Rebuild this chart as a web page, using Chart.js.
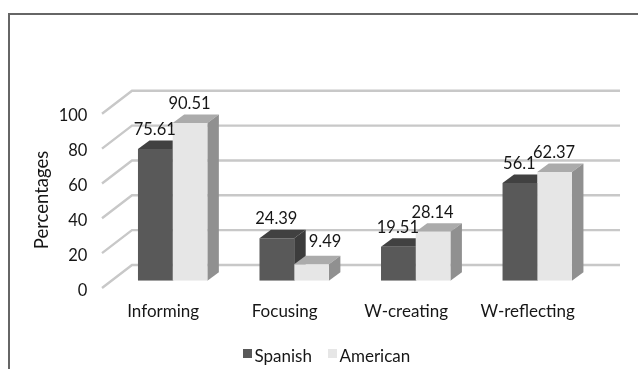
<!DOCTYPE html>
<html lang="en">
  <head>
    <meta charset="UTF-8" />
    <title>Percentages by move</title>
    <script src="https://cdn.jsdelivr.net/npm/chart.js"></script>
    <style>
      * {
        margin: 0;
        padding: 0;
      }
      body {
        background: #fff;
        overflow: hidden;
      }
      canvas {
        display: block;
      }
    </style>
  </head>
  <body>
    <canvas id="chart" width="638" height="369"></canvas>
    <script>
      const categories = ["Informing", "Focusing", "W-creating", "W-reflecting"];
      const spanish = [75.61, 24.39, 19.51, 56.1];
      const american = [90.51, 9.49, 28.14, 62.37];
      const yTicks = [0, 20, 40, 60, 80, 100];

      const FONT = "Lato, sans-serif";
      const TEXT = "#161616";
      const faces = [
        { front: "#595959", top: "#414141", side: "#3c3c3c" },
        { front: "#e6e6e6", top: "#ababab", side: "#909090" },
      ];

      function poly(ctx, pts, color) {
        ctx.fillStyle = color;
        ctx.beginPath();
        pts.forEach((p, i) => (i ? ctx.lineTo(p[0], p[1]) : ctx.moveTo(p[0], p[1])));
        ctx.closePath();
        ctx.fill();
      }

      // fake 3D: floor/wall grid behind the bars, bar depth faces, then labels on top
      const depth3d = {
        id: "depth3d",
        beforeDatasetsDraw(chart) {
          const ctx = chart.ctx;
          const y = chart.scales.y;
          ctx.save();

          // frame around the chart, open on the right and bottom
          ctx.strokeStyle = "#666";
          ctx.lineWidth = 2;
          ctx.beginPath();
          ctx.moveTo(9, 369);
          ctx.lineTo(9, 14);
          ctx.lineTo(638, 14);
          ctx.stroke();

          ctx.strokeStyle = "#c8c8c8";
          ctx.lineWidth = 2.4;
          yTicks.forEach((t) => {
            const py = y.getPixelForValue(t);
            ctx.beginPath();
            ctx.moveTo(102, py + 7.3);
            ctx.lineTo(132, py - 15.7);
            ctx.lineTo(620, py - 15.7);
            ctx.stroke();
          });

          chart.data.datasets.forEach((ds, i) => {
            chart.getDatasetMeta(i).data.forEach((bar) => {
              const half = bar.width / 2;
              const r = bar.x + half;
              const l = bar.x - half;
              const dx = 11.5;
              const dy = 8.5;
              poly(ctx, [[l, bar.y], [r, bar.y], [r + dx, bar.y - dy], [l + dx, bar.y - dy]], faces[i].top);
              poly(ctx, [[r, bar.y], [r + dx, bar.y - dy], [r + dx, bar.base - dy], [r, bar.base]], faces[i].side);
            });
          });
          ctx.restore();
        },
        afterDatasetsDraw(chart) {
          const ctx = chart.ctx;
          ctx.save();
          ctx.fillStyle = TEXT;
          ctx.font = "16.5px " + FONT;
          ctx.textAlign = "center";
          ctx.textBaseline = "middle";

          chart.data.datasets.forEach((ds, i) => {
            chart.getDatasetMeta(i).data.forEach((bar, j) => {
              // very short bars: label moved so it clears the neighbour's side
              const short = ds.data[j] < 10;
              ctx.fillText(String(ds.data[j]), bar.x + (short ? 14 : 0) - 0.5, bar.y - (short ? 22 : 19.5));
            });
          });

          // axis title
          ctx.save();
          ctx.font = "18.5px " + FONT;
          ctx.translate(42, 200);
          ctx.rotate(-Math.PI / 2);
          ctx.fillText("Percentages", 0, 0);
          ctx.restore();

          // legend
          ctx.font = "17px " + FONT;
          ctx.textAlign = "left";
          const legendX = [243, 328];
          chart.data.datasets.forEach((ds, i) => {
            ctx.fillStyle = faces[i].front;
            ctx.fillRect(legendX[i], 349, 9, 9);
            ctx.fillStyle = TEXT;
            ctx.fillText(ds.label, legendX[i] + 11.5, 357);
          });
          ctx.restore();
        },
      };

      new Chart(document.getElementById("chart"), {
        type: "bar",
        data: {
          labels: categories,
          datasets: [
            { label: "Spanish", data: spanish, backgroundColor: faces[0].front },
            { label: "American", data: american, backgroundColor: faces[1].front },
          ],
        },
        options: {
          responsive: false,
          animation: false,
          layout: { padding: { top: 106.5, right: 40, left: 0, bottom: 0 } },
          categoryPercentage: 0.571,
          barPercentage: 1,
          plugins: { legend: { display: false }, tooltip: { enabled: false } },
          scales: {
            x: {
              grid: { display: false },
              border: { display: false },
              afterFit(scale) {
                scale.height = 88.3;
              },
              ticks: {
                color: TEXT,
                font: { family: FONT, size: 17 },
                padding: 13,
                labelOffset: -9.5,
                maxRotation: 0,
              },
            },
            y: {
              min: 0,
              max: 100,
              grid: { display: false },
              border: { display: false },
              afterFit(scale) {
                scale.width = 111.9;
              },
              ticks: {
                stepSize: 20,
                color: TEXT,
                font: { family: FONT, size: 16.5 },
                padding: 16.5,
                labelOffset: 9.5,
              },
            },
          },
        },
        plugins: [depth3d],
      });
    </script>
  </body>
</html>
